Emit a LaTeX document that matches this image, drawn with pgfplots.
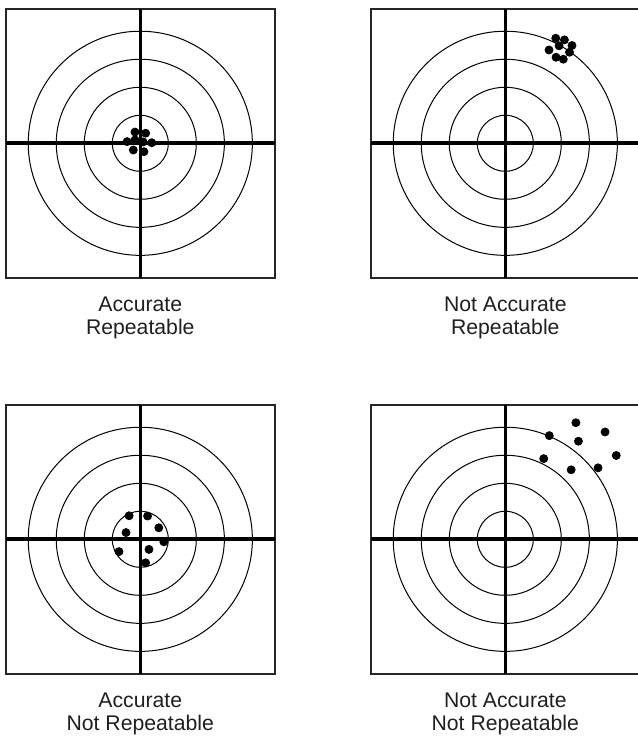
\documentclass[border=0pt]{standalone}
\usepackage{fontspec}
\setmainfont{Liberation Sans}
\usepackage{pgfplots}
\pgfplotsset{compat=1.18}
\pgfplotsset{target/.style={
  width=134.5pt,height=134.5pt,scale only axis,
  xmin=-4.8,xmax=4.8,ymin=-4.8,ymax=4.8,
  xtick=\empty,ytick=\empty,
  axis line style={line width=0.9pt,black!85},
  anchor=center}}
\newcommand{\rings}{%
  \draw[line width=0.5pt] (axis cs:0,0) circle[radius=1];
  \draw[line width=0.5pt] (axis cs:0,0) circle[radius=2];
  \draw[line width=0.5pt] (axis cs:0,0) circle[radius=3];
  \draw[line width=0.5pt] (axis cs:0,0) circle[radius=4];
  \draw[line width=1.8pt] (axis cs:-4.8,0) -- (axis cs:4.8,0);
  \draw[line width=1.8pt] (axis cs:0,-4.8) -- (axis cs:0,4.8);
}
\begin{document}
\begin{tikzpicture}
\path[use as bounding box] (0,0) rectangle (318.5pt,368.5pt);
% top left
\begin{axis}[target, at={(70.15pt,296.85pt)}]
\rings
\addplot[only marks, mark=*, mark size=2pt, black] coordinates {
(-0.19,0.40) (0.19,0.36) (-0.47,0.06) (-0.19,0.12) (0.41,0.02)
(-0.25,-0.24) (0.13,-0.30) (0.10,0.05)};
\end{axis}
% top right
\begin{axis}[target, at={(252.65pt,296.85pt)}]
\rings
\addplot[only marks, mark=*, mark size=2pt, black] coordinates {
(1.80,3.75) (2.11,3.69) (2.38,3.49) (1.92,3.48) (1.56,3.33)
(2.29,3.25) (1.81,3.07) (2.07,3.00)};
\end{axis}
% bottom left
\begin{axis}[target, at={(70.15pt,98.85pt)}]
\rings
\addplot[only marks, mark=*, mark size=2pt, black] coordinates {
(-0.40,0.84) (0.26,0.83) (0.66,0.41) (-0.51,0.24) (0.84,-0.09)
(-0.76,-0.44) (0.31,-0.36) (0.19,-0.84)};
\end{axis}
% bottom right
\begin{axis}[target, at={(252.65pt,98.85pt)}]
\rings
\addplot[only marks, mark=*, mark size=2pt, black] coordinates {
(2.52,4.16) (3.56,3.83) (1.57,3.70) (2.61,3.50) (3.96,2.99)
(1.37,2.88) (2.35,2.48) (3.31,2.55)};
\end{axis}
\begin{scope}[every node/.style={anchor=base,inner sep=0pt,font=\fontsize{10.6pt}{12pt}\selectfont,text=black!88}]
\node at (70.15pt,212.5pt) {Accurate};
\node at (70.15pt,201.25pt) {Repeatable};
\node at (252.65pt,212.5pt) {Not Accurate};
\node at (252.65pt,201.25pt) {Repeatable};
\node at (70.15pt,14.65pt) {Accurate};
\node at (70.15pt,3.4pt) {Not Repeatable};
\node at (252.65pt,14.65pt) {Not Accurate};
\node at (252.65pt,3.4pt) {Not Repeatable};
\end{scope}
\end{tikzpicture}
\end{document}
